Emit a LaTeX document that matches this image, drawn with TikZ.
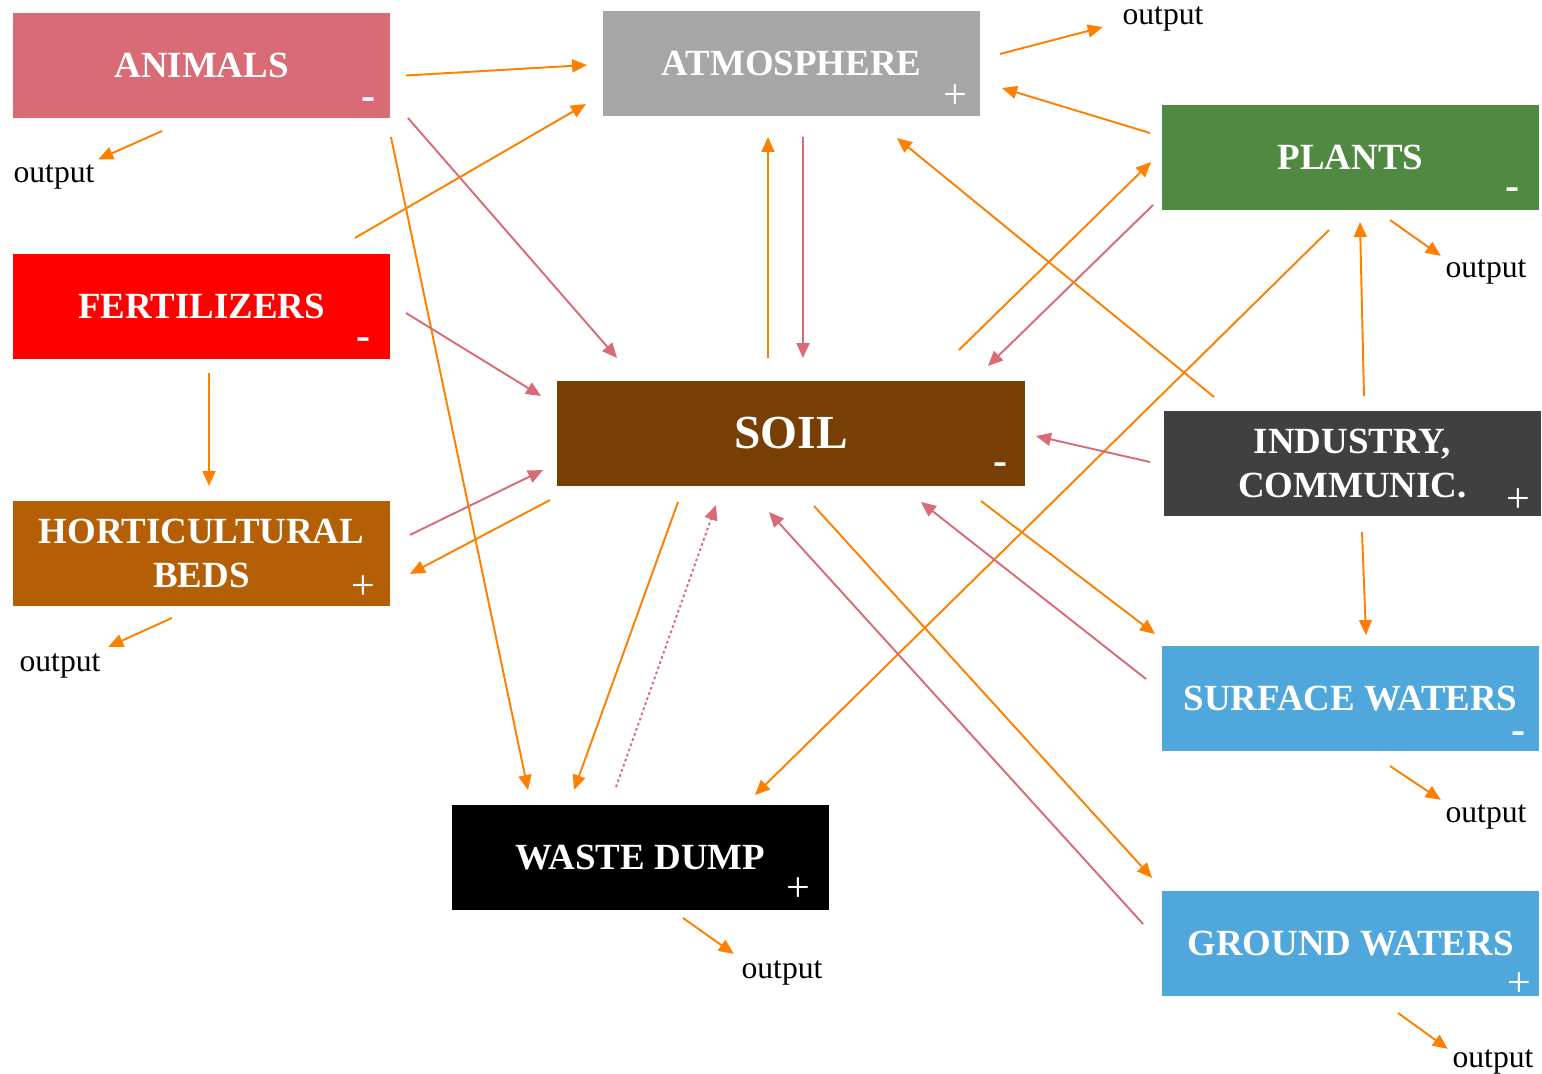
\documentclass[tikz,border=0pt]{standalone}
\usepackage{fontspec}
\setmainfont{Liberation Serif}
\usetikzlibrary{arrows.meta,positioning}

\definecolor{animalpink}{RGB}{217,107,119}
\definecolor{atmosgray}{RGB}{166,166,166}
\definecolor{plantgreen}{RGB}{80,138,66}
\definecolor{soilbrown}{RGB}{120,63,4}
\definecolor{industrygray}{RGB}{64,64,64}
\definecolor{hortbrown}{RGB}{180,95,6}
\definecolor{waterblue}{RGB}{79,167,219}
\definecolor{arrorange}{RGB}{255,128,0}

\begin{document}
\begin{tikzpicture}[
  x=0.02cm, y=-0.02cm,
  box/.style={minimum width=7.54cm, minimum height=2.1cm, inner sep=0pt, outer sep=0pt, align=center, text=white, font=\fontsize{21}{25.5}\selectfont\bfseries},
  sgn/.style={text=white, inner sep=0pt, font=\fontsize{24}{24}\selectfont},
  outp/.style={inner sep=0pt, font=\fontsize{18}{20}\selectfont},
  oarr/.style={-{Triangle[length=0.3cm,width=0.26cm]}, draw=arrorange, line width=1.1pt},
  parr/.style={-{Triangle[length=0.3cm,width=0.26cm]}, draw=animalpink, line width=1.1pt}
]
  \useasboundingbox (0,0) rectangle (1542,1073);

  % boxes
  \node[box, fill=animalpink] (animals) at (201.5,65.5) {ANIMALS};
  \node[box, fill=red, below=2.72cm of animals] (fert) {FERTILIZERS};
  \node[box, fill=hortbrown, below=2.84cm of fert] (hort) {HORTICULTURAL\\BEDS};
  \node[box, fill=atmosgray] (atmos) at (791.5,63.5) {ATMOSPHERE};
  \node[box, fill=soilbrown, minimum width=9.36cm, font=\fontsize{27}{30}\selectfont\bfseries] (soil) at (791,433.5) {SOIL};
  \node[box, fill=black] (waste) at (640.5,857.5) {WASTE DUMP};
  \node[box, fill=plantgreen] (plants) at (1350.5,157.5) {PLANTS};
  \node[box, fill=industrygray] (industry) at (1352.5,463.5) {INDUSTRY,\\COMMUNIC.};
  \node[box, fill=waterblue] (surface) at (1350.5,698.5) {SURFACE WATERS};
  \node[box, fill=waterblue, below=2.8cm of surface] (ground) {GROUND WATERS};

  % signs
  \node[sgn, font=\fontsize{24}{24}\selectfont\bfseries] (animals-s) at ([shift={(-21,-14)}]animals.south east) {-};
  \node[sgn] (atmos-s) at ([shift={(-25,-19)}]atmos.south east) {+};
  \node[sgn, font=\fontsize{24}{24}\selectfont\bfseries] (plants-s) at ([shift={(-26,-16)}]plants.south east) {-};
  \node[sgn, font=\fontsize{24}{24}\selectfont\bfseries] (fert-s) at ([shift={(-26,-15)}]fert.south east) {-};
  \node[sgn, font=\fontsize{24}{24}\selectfont\bfseries] (soil-s) at ([shift={(-24,-17)}]soil.south east) {-};
  \node[sgn] (industry-s) at ([shift={(-23,-15)}]industry.south east) {+};
  \node[sgn] (hort-s) at ([shift={(-27,-18)}]hort.south east) {+};
  \node[sgn, font=\fontsize{24}{24}\selectfont\bfseries] (surface-s) at ([shift={(-20,-13)}]surface.south east) {-};
  \node[sgn] (waste-s) at ([shift={(-31,-20)}]waste.south east) {+};
  \node[sgn] (ground-s) at ([shift={(-20,-11)}]ground.south east) {+};

  % outputs
  \node[outp] (out-atmos) at (1163,19) {output};
  \node[outp] (out-animals) at (54,177) {output};
  \node[outp] (out-plants) at (1486,272) {output};
  \node[outp] (out-hort) at (60,666) {output};
  \node[outp] (out-surface) at (1486,817) {output};
  \node[outp] (out-waste) at (782,973) {output};
  \node[outp] (out-ground) at (1493,1062) {output};

  % flows
  \draw[oarr] ([shift={(16,10)}]animals.east) -- ([shift={(-16,1.5)}]atmos.west);
  \draw[oarr] ([shift={(-39.5,13)}]animals.south) -- ([shift={(3.5,-5)}]out-animals.north east);
  \draw[parr] ([shift={(18,0)}]animals.south east) -- ([shift={(60,-23)}]soil.north west);
  \draw[oarr] ([shift={(1,19)}]animals.south east) -- ([shift={(76,-15)}]waste.north west);
  \draw[oarr] ([shift={(-35,-16)}]fert.north east) -- ([shift={(-17,-12)}]atmos.south west);
  \draw[parr] ([shift={(16,6.5)}]fert.east) -- ([shift={(-16,-37.5)}]soil.west);
  \draw[oarr] ([shift={(7.5,14)}]fert.south) -- ([shift={(7.5,-15)}]hort.north);
  \draw[parr] ([shift={(20,-18.5)}]hort.east) -- ([shift={(-14,36.5)}]soil.west);
  \draw[oarr] ([shift={(-7,14)}]soil.south west) -- ([shift={(20,20.5)}]hort.east);
  \draw[oarr] ([shift={(-29.5,12)}]hort.south) -- ([shift={(7.5,-6.5)}]out-hort.north east);
  \draw[oarr] ([shift={(-23,-23)}]soil.north) -- ([shift={(-23.5,21)}]atmos.south);
  \draw[parr] ([shift={(11.5,21)}]atmos.south) -- ([shift={(12,-23)}]soil.north);
  \draw[oarr] ([shift={(20,-9.5)}]atmos.east) -- ([shift={(-19.5,-4.5)}]out-atmos.south west);
  \draw[oarr] ([shift={(-12,-24.5)}]plants.west) -- ([shift={(22,24.5)}]atmos.east);
  \draw[oarr] ([shift={(-66,-31)}]soil.north east) -- ([shift={(-11,4.5)}]plants.west);
  \draw[parr] ([shift={(-9,-5)}]plants.south west) -- ([shift={(-37,-15)}]soil.north east);
  \draw[oarr] ([shift={(39.5,10)}]plants.south) -- ([shift={(-4.5,-3.5)}]out-plants.north west);
  \draw[oarr] ([shift={(-21.5,20)}]plants.south) -- ([shift={(-74,-10)}]waste.north east);
  \draw[oarr] ([shift={(50,-14)}]industry.north west) -- ([shift={(-83,22)}]atmos.south east);
  \draw[oarr] ([shift={(11.5,-15)}]industry.north) -- ([shift={(9.5,12)}]plants.south);
  \draw[parr] ([shift={(-14,-1.5)}]industry.west) -- ([shift={(11,2.5)}]soil.east);
  \draw[oarr] ([shift={(9.5,16)}]industry.south) -- ([shift={(15.5,-11)}]surface.north);
  \draw[oarr] ([shift={(-44,15)}]soil.south east) -- ([shift={(-7,-12)}]surface.north west);
  \draw[parr] ([shift={(-16,-19.5)}]surface.west) -- ([shift={(-104,16)}]soil.south east);
  \draw[oarr] ([shift={(39.5,15)}]surface.south) -- ([shift={(-4.5,-4.5)}]out-surface.north west);
  \draw[oarr] ([shift={(23,20)}]soil.south) -- ([shift={(-10,-13)}]ground.north west);
  \draw[parr] ([shift={(-19,-19.5)}]ground.west) -- ([shift={(-22,26)}]soil.south);
  \draw[oarr] ([shift={(47.5,17)}]ground.south) -- ([shift={(-4.5,-0.5)}]out-ground.north west);
  \draw[oarr] ([shift={(-113,16)}]soil.south) -- ([shift={(-66.5,-15)}]waste.north);
  \draw[parr, dash pattern=on 1.5pt off 1.6pt] ([shift={(-24.5,-18)}]waste.north) -- ([shift={(-75,19)}]soil.south);
  \draw[oarr] ([shift={(42.5,8)}]waste.south) -- ([shift={(-7.5,-6.5)}]out-waste.north west);
\end{tikzpicture}
\end{document}
